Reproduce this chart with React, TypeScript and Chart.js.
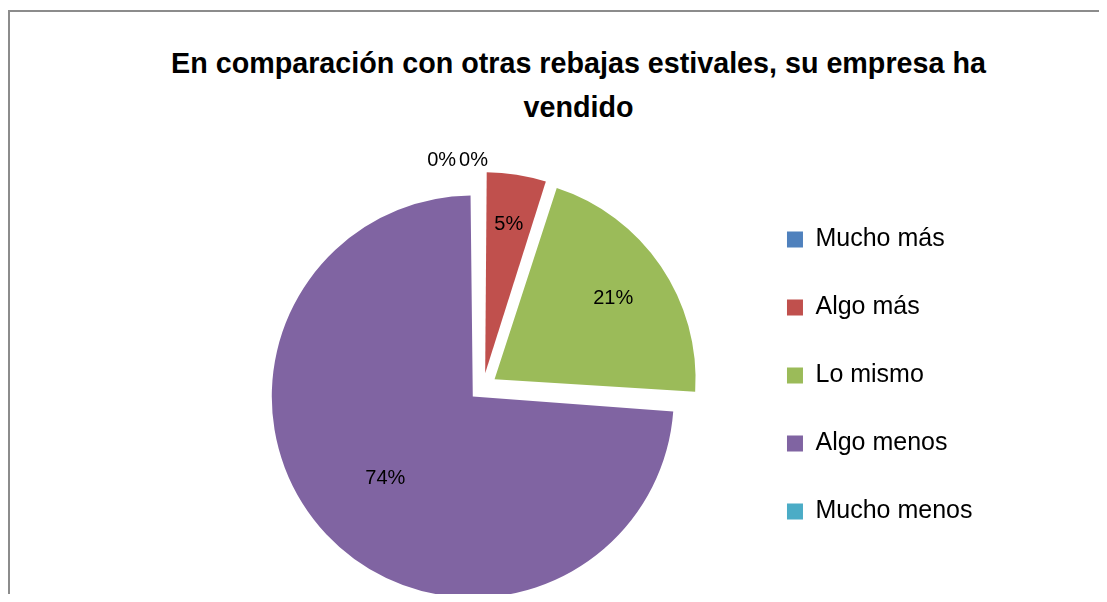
import React, { useEffect, useRef } from 'react';
import { Chart, registerables } from 'chart.js';

Chart.register(...registerables);

// ---- data ----
const categories = ['Mucho más', 'Algo más', 'Lo mismo', 'Algo menos', 'Mucho menos'];
const shares = [0, 5, 21, 74, 0];
const sliceColors = ['#4F81BD', '#C0504D', '#9BBB59', '#8064A2', '#4BACC6'];
const titleLines = ['En comparación con otras rebajas estivales, su empresa ha', 'vendido'];

// ---- style ----
const ARC_OFFSET = 56; // Chart.js translates exploded slices by offset/4
const PIE_RADIUS = 201;
const LABEL_FONT = '20px "Liberation Sans"';

// keep every exploded slice at the same drawn radius
const explodeFix = {
  id: 'explodeFix',
  afterDatasetsUpdate(chart: any) {
    const meta = chart.getDatasetMeta(0);
    meta.data.forEach((arc: any) => {
      const circ = arc.endAngle - arc.startAngle;
      const fix = 1 - Math.sin(Math.min(Math.PI, circ));
      arc.outerRadius = PIE_RADIUS - (ARC_OFFSET / 4) * fix;
    });
  },
};

const pieLabels = {
  id: 'pieLabels',
  afterDatasetsDraw(chart: any) {
    const ctx = chart.ctx;
    const meta = chart.getDatasetMeta(0);
    const data = chart.data.datasets[0].data as number[];
    const total = data.reduce((a, b) => a + b, 0);
    const shift = ARC_OFFSET / 4;
    ctx.save();
    ctx.font = LABEL_FONT;
    ctx.fillStyle = '#000';
    ctx.textBaseline = 'middle';
    const zeros: { text: string; x: number; y: number }[] = [];
    meta.data.forEach((arc: any, i: number) => {
      const v = data[i];
      const frac = v / total;
      const text = Math.round(frac * 100) + '%';
      const mid = (arc.startAngle + arc.endAngle) / 2;
      const cx = arc.x + Math.cos(mid) * shift;
      const cy = arc.y + Math.sin(mid) * shift;
      if (v > 0) {
        // smaller slices get their label further out (best-fit style)
        const r = PIE_RADIUS * (0.76 - 0.22 * frac);
        ctx.textAlign = 'center';
        ctx.fillText(text, cx + Math.cos(mid) * r, cy + Math.sin(mid) * r);
      } else {
        const r = PIE_RADIUS + 12;
        zeros.push({ text, x: cx + Math.cos(mid) * r, y: cy + Math.sin(mid) * r });
      }
    });
    // zero-value labels sit side by side just left of the top point
    ctx.textAlign = 'right';
    let right = zeros.length ? zeros[0].x + 5 : 0;
    for (let k = zeros.length - 1; k >= 0; k--) {
      const z = zeros[k];
      ctx.fillText(z.text, right, z.y);
      right -= ctx.measureText(z.text).width + 3;
    }
    ctx.restore();
  },
};

export default function App() {
  const ref = useRef<HTMLCanvasElement>(null);

  useEffect(() => {
    const chart = new Chart(ref.current as HTMLCanvasElement, {
      type: 'pie',
      data: {
        labels: categories,
        datasets: [
          {
            data: shares,
            backgroundColor: sliceColors,
            borderWidth: 0,
            offset: ARC_OFFSET,
          },
        ],
      },
      options: {
        responsive: false,
        animation: false,
        devicePixelRatio: 1,
        radius: PIE_RADIUS,
        layout: { padding: { left: 214, right: 124.5, top: 176, bottom: 12 } },
        plugins: {
          tooltip: { enabled: false },
          title: { display: false },
          legend: {
            position: 'right',
            align: 'start',
            labels: {
              boxWidth: 16,
              boxHeight: 16,
              padding: 43,
              color: '#000',
              font: { family: '"Liberation Sans"', size: 25 },
            },
          },
        },
      } as any,
      plugins: [explodeFix, pieLabels],
    });
    return () => chart.destroy();
  }, []);

  return (
    <div style={{ position: 'relative', width: 1099, height: 594, marginBottom: -8 }}>
      <div
        style={{
          position: 'absolute',
          left: 0,
          top: 2,
          right: 0,
          bottom: 0,
          borderTop: '2px solid #8c8c8c',
          borderLeft: '2px solid #8c8c8c',
          boxSizing: 'border-box',
        }}
      />
      <div
        style={{
          position: 'absolute',
          left: 70.5,
          top: 32.5,
          width: 1000,
          textAlign: 'center',
          fontFamily: '"Liberation Sans"',
          fontWeight: 'bold',
          fontSize: 28.7,
          lineHeight: '44.6px',
          whiteSpace: 'nowrap',
          color: '#000',
        }}
      >
        {titleLines.map((l) => (
          <div key={l}>{l}</div>
        ))}
      </div>
      <canvas ref={ref} width={1099} height={594} style={{ position: 'absolute', left: 0, top: 0 }} />
    </div>
  );
}
